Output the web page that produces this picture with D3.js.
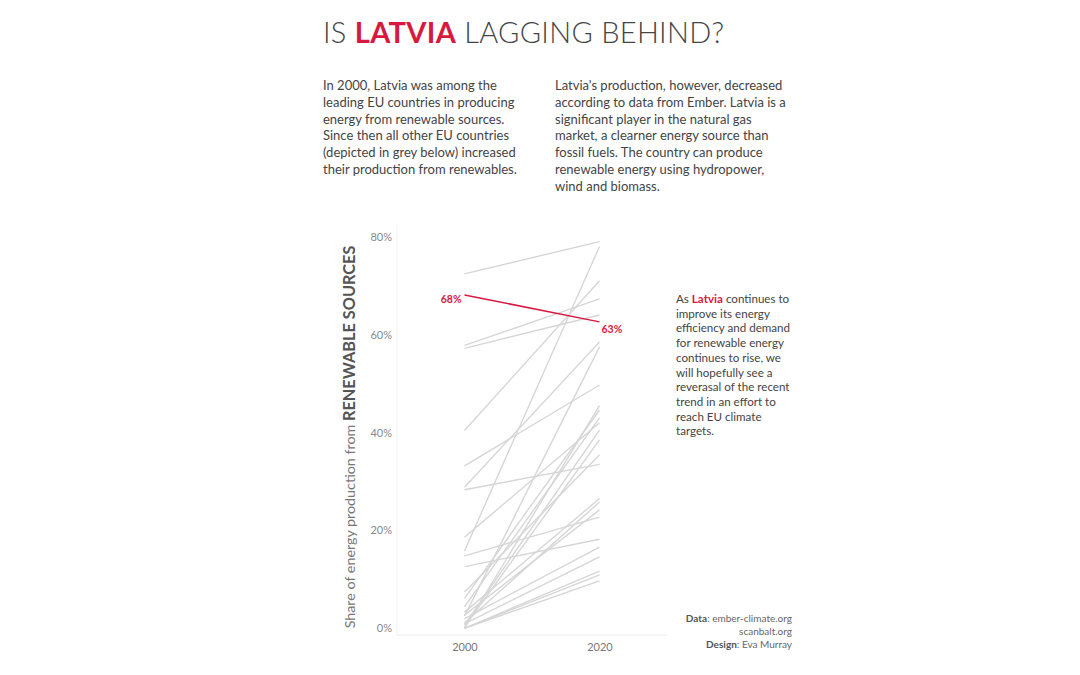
<!DOCTYPE html>
<html>
<head>
<meta charset="utf-8">
<script src="https://cdn.jsdelivr.net/npm/d3@7"></script>
<style>
  html, body { margin: 0; padding: 0; background: #fff; }
  svg { display: block; font-family: Lato, "Open Sans", sans-serif; }
</style>
</head>
<body>
<svg id="chart" width="1080" height="675"></svg>
<script>
// ---- data ----
const years = ["2000", "2020"];
const grey2000 = [72.4, 57.8, 57.2, 40.4, 15.8, 28.8, 33.2, 28.3, 14.8, 12.6, 18.6, 7.4, 6.1, 4.4, 2.5, 3.3, 2.7, 2.0, 1.1, 0.9, 0.7, 0.3, 0.0, 0.0, 0.0, 0.0];
const grey2020 = [79.0, 67.3, 64.0, 71.0, 78.0, 58.5, 49.7, 33.5, 22.7, 18.2, 42.0, 35.4, 44.6, 43.0, 57.5, 26.5, 24.2, 16.6, 25.8, 14.6, 40.5, 38.5, 11.7, 10.9, 9.7, 45.5];
const latvia = [68.1, 62.6];
const latviaLabels = ["68%", "63%"];
const yTicks = [0, 20, 40, 60, 80];

const titleParts = [["IS ", "#444", 300], ["LATVIA", "#d7193f", 700], [" LAGGING BEHIND?", "#444", 300]];
const para1 = ["In 2000, Latvia was among the", "leading EU countries in producing", "energy from renewable sources.", "Since then all other EU countries", "(depicted in grey below) increased", "their production from renewables."];
const para2 = ["Latvia's production, however, decreased", "according to data from Ember. Latvia is a", "significant player in the natural gas", "market, a clearner energy source than", "fossil fuels. The country can produce", "renewable energy using hydropower,", "wind and biomass."];
const noteLines = ["continues to", "improve its energy", "efficiency and demand", "for renewable energy", "continues to rise, we", "will hopefully see a", "reverasal of the recent", "trend in an effort to", "reach EU climate", "targets."];
const footer = [["Data", ": ember-climate.org"], ["", "scanbalt.org"], ["Design", ": Eva Murray"]];

// ---- drawing ----
const svg = d3.select("#chart");
const red = "#d7193f";

// title
const title = svg.append("text").attr("x", 323).attr("y", 43).attr("font-size", 29).attr("letter-spacing", 0.3);
titleParts.forEach(p => title.append("tspan").text(p[0]).attr("fill", p[1]).attr("font-weight", p[2]));

// paragraphs
function para(lines, x, y0) {
  svg.append("g").selectAll("text").data(lines).join("text")
    .attr("x", x).attr("y", (d, i) => y0 + i * 16.8)
    .attr("font-size", 13).attr("fill", "#444").text(d => d);
}
para(para1, 323, 90);
para(para2, 555, 90);

// scales
const x = d3.scalePoint().domain(years).range([397, 667]).padding(0.5);
const y = d3.scaleLinear().domain([0, 80]).range([628.3, 236.7]);

// faint axes
svg.append("line").attr("x1", 397).attr("x2", 397).attr("y1", 225).attr("y2", 635).attr("stroke", "#f3f3f3");
const xAxis = svg.append("g").attr("transform", "translate(0,635)")
  .call(d3.axisBottom(x).tickSize(0).tickPadding(8));
xAxis.select(".domain").attr("stroke", "#ececec").attr("d", "M397,0H667");
xAxis.selectAll("text").attr("font-size", 11).attr("fill", "#777").attr("font-family", "Lato, sans-serif");

const yAxis = svg.append("g").attr("transform", "translate(392,0)")
  .call(d3.axisLeft(y).tickValues(yTicks).tickSize(0).tickPadding(0).tickFormat(d => d + "%"));
yAxis.select(".domain").remove();
yAxis.selectAll("text").attr("font-size", 11).attr("fill", "#888").attr("font-family", "Lato, sans-serif");

// y title
const yt = svg.append("text").attr("transform", "translate(355,437) rotate(-90)")
  .attr("text-anchor", "middle");
yt.append("tspan").text("Share of energy production from ").attr("font-size", 14.3).attr("fill", "#777");
yt.append("tspan").text("RENEWABLE SOURCES").attr("font-size", 16.3).attr("font-weight", 700).attr("fill", "#555");

// grey lines
const greyData = grey2000.map((v, i) => [v, grey2020[i]]);
const line = d3.line().x((d, i) => x(years[i])).y(d => y(d));
svg.append("g").selectAll("path").data(greyData).join("path")
  .attr("d", line).attr("fill", "none").attr("stroke", "#d6d6d6").attr("stroke-width", 1.4);

// latvia
svg.append("path").datum(latvia).attr("d", line).attr("fill", "none").attr("stroke", red).attr("stroke-width", 1.5);
svg.append("text").attr("x", x(years[0]) - 3).attr("y", y(latvia[0]) + 8).attr("text-anchor", "end")
  .attr("font-size", 10.5).attr("font-weight", 700).attr("fill", red).text(latviaLabels[0]);
svg.append("text").attr("x", x(years[1]) + 2).attr("y", y(latvia[1]) + 11).attr("text-anchor", "start")
  .attr("font-size", 10.5).attr("font-weight", 700).attr("fill", red).text(latviaLabels[1]);

// note
const note = svg.append("g").attr("font-size", 11.6).attr("fill", "#444");
noteLines.forEach((l, i) => {
  const t = note.append("text").attr("x", 676).attr("y", 303 + i * 14.7);
  if (i === 0) {
    t.append("tspan").text("As ");
    t.append("tspan").text("Latvia").attr("fill", red).attr("font-weight", 700);
    t.append("tspan").text(" " + l);
  } else t.text(l);
});

// footer
footer.forEach((f, i) => {
  const t = svg.append("text").attr("x", 792).attr("y", 622 + i * 13).attr("text-anchor", "end")
    .attr("font-size", 10).attr("fill", "#666");
  if (f[0]) t.append("tspan").text(f[0]).attr("font-weight", 700).attr("fill", "#555");
  t.append("tspan").text(f[1]);
});
</script>
</body>
</html>
